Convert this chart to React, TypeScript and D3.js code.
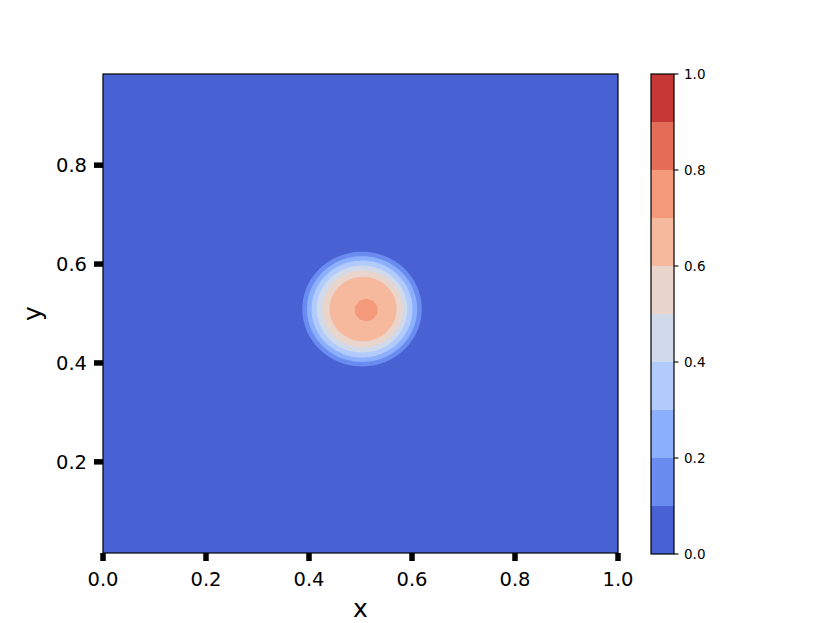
import React from "react";
import * as d3 from "d3";

// contour levels and the layer colours (coolwarm, sampled at layer middles)
const levels = [0, 0.1, 0.2, 0.3, 0.4, 0.5, 0.6, 0.7, 0.8, 0.9, 1.0];
const layerColors = [
  "#4962d3", "#6a8cf0", "#8db0fe", "#b0cbfc", "#d0daeb",
  "#e9d5cb", "#f7b99d", "#f49a7b", "#e46d57", "#c73735",
];

// filled contour rings of the blob (data units)
const ringLevels = [0.1, 0.2, 0.3, 0.4, 0.5, 0.6, 0.7];
const ringRadius = [0.116, 0.107, 0.098, 0.088, 0.078, 0.065, 0.023];
const ringCenterX = [0.503, 0.503, 0.503, 0.503, 0.504, 0.505, 0.511];
const ringCenterY = [0.509, 0.509, 0.509, 0.509, 0.509, 0.509, 0.507];
const ringSides = [90, 90, 90, 90, 90, 90, 10];

const xTicks = [0, 0.2, 0.4, 0.6, 0.8, 1.0];
const yTicks = [0.2, 0.4, 0.6, 0.8];
const cbTicks = [0, 0.2, 0.4, 0.6, 0.8, 1.0];

const W = 830;
const H = 623;
const plot = {left: 103, right: 618, top: 74, bottom: 553};
const cb = {left: 651, right: 674, top: 74, bottom: 554};
const font = "DejaVu Sans, sans-serif";

export default function App() {
  const x = d3.scaleLinear().domain([0, 1]).range([plot.left, plot.right]);
  const y = d3.scaleLinear().domain([0.015625, 0.984375]).range([plot.bottom, plot.top]);
  const cy = d3.scaleLinear().domain([0, 1]).range([cb.bottom, cb.top]);

  const ringPath = (i: number) => {
    const n = ringSides[i];
    const pts = d3.range(n).map((k) => {
      const a = (k / n) * Math.PI * 2 + Math.PI / n;
      return [
        ringCenterX[i] + ringRadius[i] * Math.cos(a),
        ringCenterY[i] + ringRadius[i] * Math.sin(a),
      ] as [number, number];
    });
    return d3
      .line<[number, number]>()
      .x((d) => x(d[0]))
      .y((d) => y(d[1]))
      .curve(d3.curveLinearClosed)(pts) || "";
  };

  return (
    <svg width={W} height={H} style={{position: "absolute", left: 0, top: 0}}
         fontFamily={font}>
      <rect width={W} height={H} fill="#fff" />
      {/* base layer */}
      <rect x={plot.left} y={plot.top} width={plot.right - plot.left}
            height={plot.bottom - plot.top} fill={layerColors[0]} />
      {ringLevels.map((lv, i) => (
        <path key={lv} d={ringPath(i)}
              fill={layerColors[levels.indexOf(lv)]} />
      ))}
      <rect x={plot.left} y={plot.top} width={plot.right - plot.left}
            height={plot.bottom - plot.top} fill="none" stroke="#000" strokeWidth={1.2} />

      {/* x axis */}
      {xTicks.map((t) => (
        <g key={"x" + t}>
          <line x1={x(t)} x2={x(t)} y1={plot.bottom} y2={plot.bottom + 8}
                stroke="#000" strokeWidth={5.5} />
          <text x={x(t)} y={586} fontSize={19.5} textAnchor="middle">{t.toFixed(1)}</text>
        </g>
      ))}
      {/* y axis */}
      {yTicks.map((t) => (
        <g key={"y" + t}>
          <line x1={plot.left - 9} x2={plot.left} y1={y(t)} y2={y(t)}
                stroke="#000" strokeWidth={5.5} />
          <text x={87} y={y(t)} dy="0.36em" fontSize={19.5} textAnchor="end">{t.toFixed(1)}</text>
        </g>
      ))}
      <text x={(plot.left + plot.right) / 2} y={617} fontSize={25} textAnchor="middle">x</text>
      <text transform={`translate(41,${(plot.top + plot.bottom) / 2}) rotate(-90)`}
            fontSize={25} textAnchor="middle">y</text>

      {/* colorbar */}
      {layerColors.map((c, i) => (
        <rect key={c} x={cb.left} width={cb.right - cb.left}
              y={cy(levels[i + 1])} height={cy(levels[i]) - cy(levels[i + 1])} fill={c} />
      ))}
      <rect x={cb.left} y={cb.top} width={cb.right - cb.left} height={cb.bottom - cb.top}
            fill="none" stroke="#000" strokeWidth={1.2} />
      {cbTicks.map((t) => (
        <g key={"c" + t}>
          <line x1={cb.right} x2={cb.right + 4.5} y1={cy(t)} y2={cy(t)} stroke="#000" strokeWidth={1.1} />
          <text x={684} y={cy(t)} dy="0.36em" fontSize={13.5}>{t.toFixed(1)}</text>
        </g>
      ))}
    </svg>
  );
}
